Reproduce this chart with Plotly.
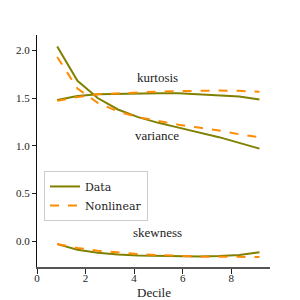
import plotly.graph_objects as go

decile = [0.833, 1.667, 2.5, 3.333, 4.167, 5.0, 5.833, 6.667, 7.5, 8.333, 9.167]

var_data = [2.04, 1.68, 1.50, 1.38, 1.30, 1.24, 1.19, 1.14, 1.09, 1.03, 0.97]
var_nl = [1.93, 1.60, 1.45, 1.36, 1.30, 1.26, 1.22, 1.19, 1.16, 1.12, 1.09]
kurt_data = [1.48, 1.52, 1.54, 1.545, 1.55, 1.55, 1.55, 1.54, 1.53, 1.515, 1.485]
kurt_nl = [1.47, 1.51, 1.54, 1.55, 1.56, 1.567, 1.572, 1.577, 1.578, 1.575, 1.565]
skew_data = [-0.03, -0.09, -0.12, -0.14, -0.15, -0.155, -0.16, -0.16, -0.155, -0.145, -0.115]
skew_nl = [-0.03, -0.07, -0.10, -0.12, -0.135, -0.145, -0.155, -0.16, -0.163, -0.165, -0.165]

x_ticks = [0, 2, 4, 6, 8]
y_ticks = [0, 0.5, 1, 1.5, 2]
y_ticktext = ["0.0", "0.5", "1.0", "1.5", "2.0"]

labels = ["kurtosis", "variance", "skewness"]
label_y = [1.72, 1.11, 0.095]
label_x = 4.95

OLIVE = "#808000"
ORANGE = "#ff8c00"
FONT = "Liberation Serif"

fig = go.Figure()
first = True
for d, n in [(var_data, var_nl), (kurt_data, kurt_nl), (skew_data, skew_nl)]:
    fig.add_trace(go.Scatter(x=decile, y=d, mode="lines", name="Data",
                             line=dict(color=OLIVE, width=2), showlegend=first, legendgroup="d"))
    fig.add_trace(go.Scatter(x=decile, y=n, mode="lines", name="Nonlinear",
                             line=dict(color=ORANGE, width=2, dash="dash"), showlegend=first, legendgroup="n"))
    first = False

for t, yy in zip(labels, label_y):
    fig.add_annotation(x=label_x, y=yy, text=t, showarrow=False,
                       font=dict(family=FONT, size=13, color="#222"))

fig.add_annotation(x=0.5, y=0, xref="paper", yref="paper", yshift=-25, text="Decile",
                   showarrow=False, yanchor="middle", font=dict(family=FONT, size=13, color="#222"))

fig.update_layout(
    width=300, height=300,
    margin=dict(l=29, r=38, t=27, b=41),
    paper_bgcolor="white", plot_bgcolor="white",
    font=dict(family=FONT, size=11, color="#222"),
    legend=dict(x=0.03, y=0.414, xanchor="left", yanchor="top",
                bordercolor="#cccccc", borderwidth=1, bgcolor="rgba(255,255,255,0.8)",
                font=dict(family="DejaVu Serif", size=11), tracegroupgap=0, itemwidth=30),
    xaxis=dict(range=[0, 9.6], tickvals=x_ticks, showgrid=False, zeroline=False,
               showline=True, linecolor="#555", linewidth=2, ticks="", automargin=False,
               minor=dict(tickvals=x_ticks, ticks="outside", ticklen=5, tickcolor="#222", showgrid=False)),
    yaxis=dict(range=[-0.27, 2.16], tickvals=y_ticks, ticktext=y_ticktext,
               showgrid=False, zeroline=False, showline=True, linecolor="#111", linewidth=1,
               ticks="outside", ticklen=4, tickcolor="#222", automargin=False),
)

fig.write_html("out.html")
